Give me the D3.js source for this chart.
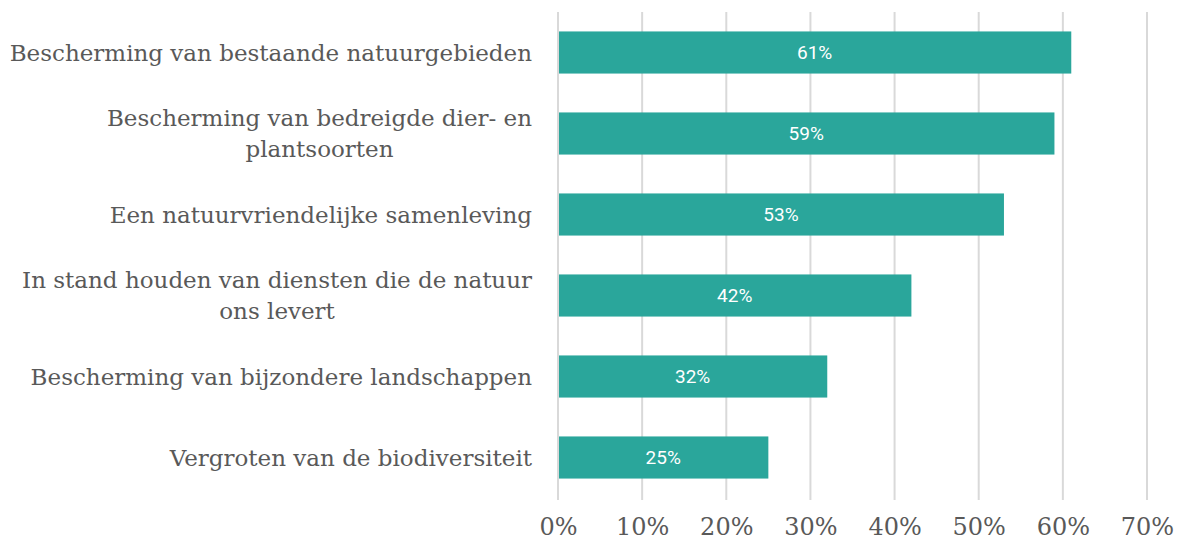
<!DOCTYPE html>
<html lang="nl">
<head>
<meta charset="UTF-8">
<title>Natuur prioriteiten</title>
<script src="https://d3js.org/d3.v7.min.js"></script>
<style>
    body { margin: 0; background: #fff; }
    svg { display: block; }
</style>
</head>
<body>
<div id="chart"></div>
<script>
    // data, top to bottom
    var categories = [
        ['Bescherming van bestaande natuurgebieden'],
        ['Bescherming van bedreigde dier- en', 'plantsoorten'],
        ['Een natuurvriendelijke samenleving'],
        ['In stand houden van diensten die de natuur', 'ons levert'],
        ['Bescherming van bijzondere landschappen'],
        ['Vergroten van de biodiversiteit']
    ];
    var values = [61, 59, 53, 42, 32, 25];
    var ticks = [0, 10, 20, 30, 40, 50, 60, 70];

    var w = 1178, h = 541;
    var m = {top: 12, left: 558, bottom: 43, right: 31};
    var innerW = w - m.left - m.right;
    var innerH = h - m.top - m.bottom;

    var serif = '"DejaVu Serif", "Liberation Serif", serif';
    var grey = '#595959';

    var x = d3.scaleLinear().domain([0, 70]).range([0, innerW]);
    var y = d3.scaleBand()
        .domain(d3.range(values.length))
        .range([0, innerH])
        .paddingInner(0.48)
        .paddingOuter(0.24);

    var svg = d3.select('#chart').append('svg')
        .attr('width', w)
        .attr('height', h);

    var g = svg.append('g').attr('transform', 'translate(' + m.left + ',' + m.top + ')');

    // vertical gridlines
    g.append('g').selectAll('line')
        .data(ticks)
        .enter().append('line')
        .attr('x1', function(d){ return x(d); })
        .attr('x2', function(d){ return x(d); })
        .attr('y1', 0)
        .attr('y2', innerH + 2)
        .attr('stroke', '#d9d9d9')
        .attr('stroke-width', 2);

    // bars
    g.append('g').selectAll('rect')
        .data(values)
        .enter().append('rect')
        .attr('x', x(0) + 1)
        .attr('y', function(d, i){ return y(i); })
        .attr('width', function(d){ return x(d) - x(0) - 1; })
        .attr('height', y.bandwidth())
        .attr('fill', '#2aa69b');

    // value labels inside bars
    g.append('g').selectAll('text')
        .data(values)
        .enter().append('text')
        .attr('x', function(d){ return (x(0) + x(d)) / 2; })
        .attr('y', function(d, i){ return y(i) + y.bandwidth() / 2; })
        .attr('dy', '0.35em')
        .attr('text-anchor', 'middle')
        .attr('fill', '#fff')
        .style('font-family', 'Roboto, "Noto Sans", sans-serif')
        .style('font-size', '19px')
        .text(function(d){ return d + '%'; });

    // x axis labels
    var xAxis = d3.axisBottom(x)
        .tickValues(ticks)
        .tickSize(0)
        .tickPadding(0)
        .tickFormat(function(d){ return d + '%'; });

    var ax = g.append('g')
        .attr('transform', 'translate(0,' + (innerH + 20) + ')')
        .call(xAxis);
    ax.select('.domain').remove();
    ax.selectAll('text')
        .attr('fill', grey)
        .style('font-family', serif)
        .style('font-size', '24px');

    // category labels, lines centred within a right-aligned block
    var lineH = 31;
    var labels = g.append('g');
    categories.forEach(function(lines, i){
        var cy = y(i) + y.bandwidth() / 2;
        var grp = labels.append('g');
        var t = grp.append('text')
            .attr('fill', grey)
            .style('font-family', serif)
            .style('font-size', '23px')
            .attr('text-anchor', 'middle');
        lines.forEach(function(s, k){
            t.append('tspan')
                .attr('x', 0)
                .attr('y', cy + (k - (lines.length - 1) / 2) * lineH)
                .attr('dy', '0.35em')
                .text(s);
        });
        var maxW = d3.max(t.selectAll('tspan').nodes(), function(n){ return n.getComputedTextLength(); });
        grp.attr('transform', 'translate(' + (-26 - maxW / 2) + ',0)');
    });
</script>
</body>
</html>
